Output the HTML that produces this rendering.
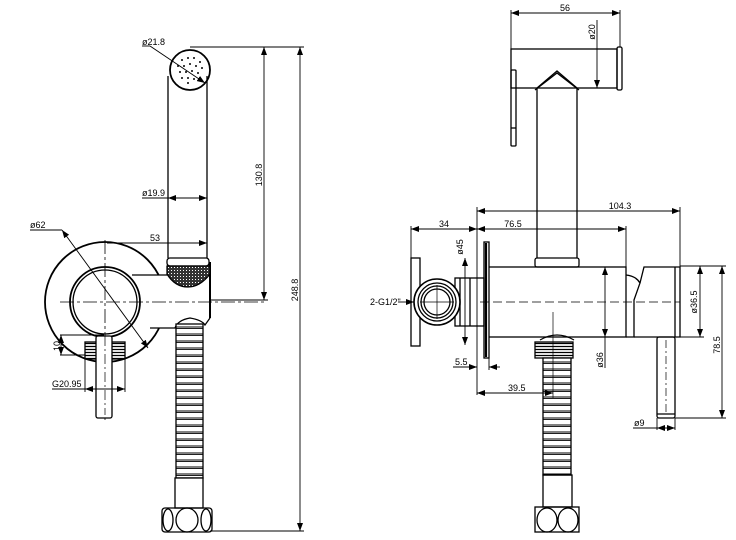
<!DOCTYPE html>
<html><head><meta charset="utf-8"><style>
html,body{margin:0;padding:0;background:#fff;}
svg{display:block;}
text{font-family:"Liberation Sans",sans-serif;font-size:9px;fill:#000;}
</style></head><body>
<svg width="736" height="540" viewBox="0 0 736 540" xmlns="http://www.w3.org/2000/svg">
<defs>
<marker id="a" markerWidth="8" markerHeight="6" refX="8" refY="3" orient="auto-start-reverse" markerUnits="userSpaceOnUse"><path d="M0,0 L8,3 L0,6z" fill="#000"/></marker>
<pattern id="rib" x="0" y="0" width="40" height="7" patternUnits="userSpaceOnUse"><rect width="40" height="7" fill="#fff"/><line x1="0" y1="5" x2="40" y2="5" stroke="#000" stroke-width="0.9"/><line x1="0" y1="6.6" x2="40" y2="6.6" stroke="#000" stroke-width="0.9"/></pattern>
<pattern id="thr" x="0" y="0" width="60" height="3" patternUnits="userSpaceOnUse"><rect width="60" height="3" fill="#fff"/><line x1="0" y1="1.5" x2="60" y2="1.5" stroke="#000" stroke-width="1.3"/></pattern>
<pattern id="knurl" width="3" height="3" patternUnits="userSpaceOnUse"><rect width="3" height="3" fill="#333"/><rect width="1" height="1" fill="#fff"/></pattern>
</defs>
<g fill="none" stroke="#000" stroke-width="1.3">
<!-- LEFT VIEW -->
<circle cx="190" cy="70" r="20" stroke-width="1.8"/>
<g fill="#000" stroke="none">
<circle cx="182" cy="60" r="1"/><circle cx="188" cy="58" r="1"/><circle cx="194" cy="58" r="1"/><circle cx="200" cy="62" r="1"/>
<circle cx="178" cy="66" r="1"/><circle cx="184" cy="66" r="1"/><circle cx="190" cy="64" r="1"/><circle cx="196" cy="66" r="1"/><circle cx="202" cy="68" r="1"/>
<circle cx="180" cy="72" r="1"/><circle cx="186" cy="72" r="1"/><circle cx="192" cy="71" r="1"/><circle cx="198" cy="73" r="1"/>
<circle cx="182" cy="78" r="1"/><circle cx="188" cy="78" r="1"/><circle cx="194" cy="79" r="1"/><circle cx="200" cy="78" r="1"/><circle cx="188" cy="83" r="1"/>
</g>
<line x1="168" y1="76" x2="168" y2="258"/><line x1="207" y1="76" x2="207" y2="258"/>
<circle cx="105" cy="302" r="60" stroke-width="1.8"/>
<!-- body arm covering circle -->
<path d="M132,275 L168,275 L168,266 L210,266 L210,318 L203,322 Q190,316 177,322 L172,328 L150,328 L130,328 Z" fill="#fff" stroke="none"/>
<path d="M132,275 L168,275"/>
<path d="M150,328 L175,328 Q178,320 190,318 Q202,320 205,325 L210,318"/>
<line x1="210" y1="262" x2="210" y2="318" stroke-width="2"/>
<circle cx="105" cy="302" r="35" fill="#fff" stroke-width="1.8"/>
<circle cx="105" cy="302" r="32"/>
<rect x="167" y="258" width="42" height="8" rx="3" fill="#fff"/>
<path d="M167,266 L210,266 L210,274 Q200,287 188,287 Q175,287 167,274 Z" fill="url(#knurl)"/>
<line x1="60" y1="302" x2="265" y2="302" stroke-width="0.8" stroke-dasharray="14 3 3 3"/>
<line x1="105" y1="240" x2="105" y2="420" stroke-width="0.8" stroke-dasharray="14 3 3 3"/>
<!-- hose left -->
<rect x="176" y="324" width="27" height="154" fill="url(#rib)"/>
<rect x="175" y="478" width="28" height="30" fill="#fff"/>
<rect x="162" y="508" width="50" height="24" rx="3"/>
<ellipse cx="168" cy="520" rx="5" ry="11"/><ellipse cx="187" cy="520" rx="11" ry="12"/><ellipse cx="206" cy="520" rx="5" ry="11"/>
<!-- bottom pipe under circle -->
<rect x="85" y="342" width="40" height="17" fill="url(#thr)"/>
<rect x="96" y="336" width="16" height="82" rx="2" fill="#fff"/>
<line x1="105" y1="336" x2="105" y2="415" stroke-width="0.7" stroke-dasharray="10 3 2 3"/>
<!-- dims left -->
<g stroke-width="0.9">
<line x1="190" y1="47" x2="304" y2="47"/>
<line x1="264" y1="47" x2="264" y2="300" marker-start="url(#a)" marker-end="url(#a)"/>
<line x1="210" y1="300" x2="268" y2="300"/>
<line x1="300" y1="47" x2="300" y2="531" marker-start="url(#a)" marker-end="url(#a)"/>
<line x1="210" y1="531" x2="304" y2="531"/>
<line x1="107" y1="243" x2="207" y2="243" marker-end="url(#a)"/>
<line x1="142" y1="46" x2="150" y2="46"/>
<line x1="150" y1="46" x2="205" y2="83" marker-end="url(#a)"/>
<line x1="30" y1="230" x2="62" y2="230"/><line x1="62" y1="230" x2="148" y2="348" marker-start="url(#a)" marker-end="url(#a)"/>
<line x1="60" y1="335" x2="104" y2="335"/><line x1="60" y1="355" x2="85" y2="355"/>
<line x1="61" y1="335" x2="61" y2="355" marker-start="url(#a)" marker-end="url(#a)"/>
<line x1="52" y1="389" x2="85" y2="389"/><line x1="85" y1="359" x2="85" y2="392"/><line x1="125" y1="359" x2="125" y2="392"/>
<line x1="85" y1="389" x2="125" y2="389" marker-start="url(#a)" marker-end="url(#a)"/>
<line x1="142" y1="198" x2="168" y2="198"/>
<line x1="168" y1="198" x2="207" y2="198" marker-start="url(#a)" marker-end="url(#a)"/>
</g>

<!-- RIGHT VIEW -->
<rect x="511" y="49" width="106" height="39"/>
<rect x="617" y="47" width="5" height="43" rx="1.5"/>
<rect x="511" y="70" width="5" height="76" rx="1"/>
<line x1="511" y1="128" x2="516" y2="128"/>
<path d="M537,88 L557,71 L577,88"/><path d="M535,90 L557,73 L579,90"/>
<line x1="537" y1="88" x2="537" y2="258"/><line x1="577" y1="88" x2="577" y2="258"/>
<rect x="535" y="258" width="44" height="9" rx="2"/>
<rect x="488" y="267" width="138" height="70"/>
<rect x="484" y="242" width="5" height="116" fill="#fff"/>
<line x1="486" y1="243" x2="486" y2="357" stroke-width="2.2"/>
<rect x="411" y="258" width="9" height="88"/>
<rect x="455" y="278" width="29" height="48"/>
<line x1="460" y1="278" x2="460" y2="326"/><line x1="470" y1="278" x2="470" y2="326"/>
<circle cx="437" cy="302" r="23" fill="#fff" stroke-width="1.6"/>
<circle cx="437" cy="302" r="19"/><circle cx="437" cy="302" r="16"/><circle cx="437" cy="302" r="13"/>
<line x1="420" y1="302" x2="454" y2="302" stroke-width="0.7"/><line x1="437" y1="285" x2="437" y2="319" stroke-width="0.7"/>
<path d="M626,275 Q636,276 640,283 L634,300 L634,337 L626,337"/>
<path d="M640,283 L644,267 L680,267 L680,337 L634,337"/>
<line x1="675" y1="267" x2="675" y2="337"/>
<rect x="657" y="337" width="18" height="81" rx="2"/><line x1="657" y1="414" x2="675" y2="414"/>
<line x1="666" y1="340" x2="666" y2="412" stroke-width="0.7" stroke-dasharray="8 3 2 3"/>
<line x1="480" y1="302" x2="680" y2="302" stroke-width="0.8" stroke-dasharray="9 4"/>
<!-- right hose -->
<path d="M540,340 Q557,330 574,340" />
<rect x="535" y="342" width="38" height="16" fill="url(#thr)"/>
<rect x="543" y="358" width="28" height="117" fill="url(#rib)"/>
<rect x="543" y="475" width="29" height="32"/>
<rect x="535" y="507" width="44" height="25"/>
<ellipse cx="547" cy="520" rx="10" ry="12"/><ellipse cx="568" cy="520" rx="10" ry="12"/>
<line x1="553" y1="312" x2="553" y2="398" stroke-width="0.7"/>
<!-- dims right -->
<g stroke-width="0.9">
<line x1="511" y1="10" x2="511" y2="49"/><line x1="620" y1="10" x2="620" y2="47"/>
<line x1="511" y1="13" x2="620" y2="13" marker-start="url(#a)" marker-end="url(#a)"/>
<line x1="597" y1="20" x2="597" y2="88" marker-end="url(#a)"/>
<line x1="477" y1="207" x2="477" y2="395"/>
<line x1="680" y1="207" x2="680" y2="267"/>
<line x1="477" y1="211" x2="680" y2="211" marker-start="url(#a)" marker-end="url(#a)"/>
<line x1="626" y1="226" x2="626" y2="267"/>
<line x1="477" y1="229" x2="626" y2="229" marker-start="url(#a)" marker-end="url(#a)"/>
<line x1="411" y1="226" x2="411" y2="258"/>
<line x1="411" y1="229" x2="477" y2="229" marker-start="url(#a)" marker-end="url(#a)"/>
<line x1="465" y1="258" x2="465" y2="345" marker-start="url(#a)" marker-end="url(#a)"/>
<line x1="605" y1="267" x2="605" y2="337" marker-start="url(#a)" marker-end="url(#a)"/>
<line x1="605" y1="337" x2="605" y2="368"/>
<line x1="680" y1="266" x2="704" y2="266"/><line x1="680" y1="337" x2="704" y2="337"/>
<line x1="700" y1="266" x2="700" y2="337" marker-start="url(#a)" marker-end="url(#a)"/>
<line x1="680" y1="266" x2="726" y2="266"/><line x1="675" y1="418" x2="726" y2="418"/>
<line x1="722" y1="266" x2="722" y2="418" marker-start="url(#a)" marker-end="url(#a)"/>
<line x1="453" y1="367" x2="477" y2="367" marker-end="url(#a)"/>
<line x1="500" y1="367" x2="489" y2="367" marker-end="url(#a)"/>
<line x1="489" y1="358" x2="489" y2="370"/>
<line x1="477" y1="393" x2="553" y2="393" marker-start="url(#a)" marker-end="url(#a)"/>
<line x1="657" y1="418" x2="657" y2="430"/><line x1="675" y1="418" x2="675" y2="430"/>
<line x1="633" y1="428" x2="657" y2="428"/>
<line x1="657" y1="428" x2="675" y2="428" marker-start="url(#a)" marker-end="url(#a)"/>
<line x1="398" y1="302" x2="414" y2="302" marker-end="url(#a)"/>
</g>
</g>
<!-- labels -->
<text x="142" y="45">ø21.8</text>
<text x="142" y="196">ø19.9</text>
<text x="150" y="241">53</text>
<text x="30" y="228">ø62</text>
<text x="52" y="387">G20.95</text>
<text transform="translate(60,346) rotate(-90)" text-anchor="middle">10</text>
<text transform="translate(262,175) rotate(-90)" text-anchor="middle">130.8</text>
<text transform="translate(298,290) rotate(-90)" text-anchor="middle">248.8</text>
<text x="565" y="11" text-anchor="middle">56</text>
<text transform="translate(595,32) rotate(-90)" text-anchor="middle">ø20</text>
<text x="620" y="209" text-anchor="middle">104.3</text>
<text x="513" y="227" text-anchor="middle">76.5</text>
<text x="444" y="227" text-anchor="middle">34</text>
<text transform="translate(463,247) rotate(-90)" text-anchor="middle">ø45</text>
<text transform="translate(603,360) rotate(-90)" text-anchor="middle">ø36</text>
<text transform="translate(697,302) rotate(-90)" text-anchor="middle">ø36.5</text>
<text transform="translate(720,345) rotate(-90)" text-anchor="middle">78.5</text>
<text x="455" y="365">5.5</text>
<text x="508" y="391">39.5</text>
<text x="634" y="426">ø9</text>
<text x="370" y="305">2-G1/2"</text>
</svg>
</body></html>
